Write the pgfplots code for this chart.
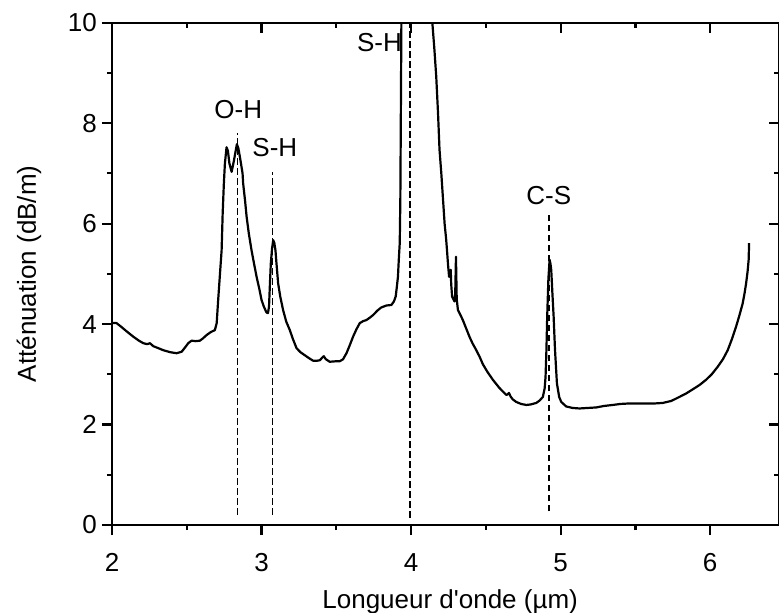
\documentclass[border=0pt]{standalone}
\usepackage{pgfplots}
\pgfplotsset{compat=1.18}
\usepackage{fontspec}
\setmainfont{Liberation Sans}

% spectrum
\pgfplotstableread{
x y
2.000 4.02
2.030 4.02
2.060 3.95
2.100 3.85
2.142 3.75
2.180 3.67
2.209 3.62
2.235 3.60
2.254 3.62
2.276 3.56
2.310 3.52
2.343 3.48
2.390 3.44
2.432 3.42
2.466 3.45
2.490 3.54
2.510 3.62
2.532 3.67
2.560 3.66
2.588 3.67
2.610 3.72
2.632 3.78
2.660 3.84
2.688 3.88
2.700 4.02
2.710 4.48
2.722 5.00
2.733 5.47
2.740 6.20
2.748 6.80
2.755 7.20
2.766 7.52
2.775 7.45
2.785 7.20
2.800 7.03
2.815 7.25
2.835 7.58
2.845 7.50
2.855 7.33
2.865 7.15
2.873 7.00
2.877 6.80
2.890 6.45
2.900 6.14
2.915 5.80
2.933 5.47
2.950 5.20
2.967 4.94
2.985 4.70
3.000 4.48
3.015 4.35
3.033 4.23
3.043 4.22
3.050 4.35
3.056 4.80
3.062 5.21
3.070 5.50
3.078 5.67
3.085 5.62
3.093 5.47
3.100 5.20
3.111 4.81
3.125 4.55
3.144 4.28
3.165 4.05
3.189 3.88
3.210 3.70
3.234 3.52
3.260 3.44
3.289 3.38
3.318 3.32
3.345 3.27
3.370 3.27
3.390 3.28
3.405 3.33
3.416 3.36
3.430 3.30
3.456 3.25
3.500 3.26
3.523 3.26
3.545 3.30
3.568 3.42
3.590 3.58
3.612 3.75
3.635 3.90
3.657 4.02
3.680 4.06
3.701 4.08
3.725 4.13
3.746 4.18
3.775 4.27
3.800 4.33
3.835 4.37
3.868 4.38
3.885 4.45
3.897 4.55
3.905 4.75
3.912 4.94
3.918 5.30
3.924 5.61
3.928 6.47
3.930 7.47
3.935 10.00
3.940 11.00
4.130 11.00
4.142 10.00
4.155 9.50
4.168 8.93
4.180 8.20
4.190 7.47
4.202 7.00
4.213 6.50
4.224 6.00
4.234 5.70
4.240 5.47
4.247 5.18
4.254 4.94
4.258 4.98
4.265 5.08
4.268 4.80
4.274 4.55
4.282 4.50
4.290 4.45
4.295 4.60
4.300 5.34
4.305 4.50
4.313 4.28
4.330 4.18
4.346 4.08
4.370 3.90
4.390 3.75
4.410 3.62
4.436 3.48
4.458 3.35
4.480 3.20
4.510 3.05
4.547 2.89
4.590 2.73
4.636 2.59
4.645 2.60
4.654 2.63
4.665 2.56
4.680 2.50
4.703 2.45
4.735 2.41
4.770 2.39
4.800 2.40
4.837 2.43
4.860 2.48
4.881 2.55
4.893 2.72
4.899 2.95
4.905 3.50
4.910 4.15
4.918 4.90
4.926 5.28
4.932 5.20
4.937 5.08
4.945 4.60
4.953 4.15
4.962 3.50
4.975 2.82
4.990 2.55
5.004 2.45
5.037 2.36
5.080 2.33
5.126 2.32
5.180 2.33
5.237 2.34
5.290 2.37
5.349 2.39
5.400 2.41
5.460 2.42
5.520 2.42
5.572 2.42
5.630 2.42
5.683 2.43
5.740 2.47
5.794 2.55
5.840 2.62
5.883 2.70
5.930 2.79
5.972 2.89
6.010 3.00
6.050 3.15
6.085 3.30
6.117 3.48
6.145 3.70
6.173 3.95
6.195 4.17
6.217 4.41
6.230 4.62
6.240 4.81
6.250 5.05
6.257 5.28
6.260 5.61
}\spectre

\pgfplotsset{
  base/.style={
    width=333.5bp, height=251.15bp, scale only axis,
    xmin=2, xmax=6.46, ymin=0, ymax=10,
    xtick={2,3,4,5,6}, minor x tick num=1,
    ytick={0,2,4,6,8,10}, minor y tick num=1,
    major tick length=5bp, minor tick length=2.5bp,
    axis line style={line width=1.1bp},
    major tick style={line width=1.1bp, black},
    minor tick style={line width=1.1bp, black},
  },
}

\begin{document}
\begin{tikzpicture}[font=\fontsize{13bp}{15bp}\selectfont]
\begin{axis}[base, name=main,
  tick pos=left, tick align=outside,
  /pgf/number format/assume math mode=true,
  xticklabel style={anchor=north, inner sep=0pt, yshift=-9.2bp},
  yticklabel style={anchor=east, inner sep=0pt, xshift=-2.4bp},
  xlabel={Longueur d\textquotesingle onde (µm)},
  ylabel={Atténuation (dB/m)},
  xlabel style={at={(axis description cs:0.507,-0.167)}, anchor=base},
  ylabel style={at={(axis description cs:-0.114,0.5)}, anchor=base},
  clip mode=individual,
]
\addplot[black, line width=1.1bp, line join=round] table[x=x, y=y] {\spectre};
\addplot[black, line width=0.7bp, dash pattern=on 3.3bp off 1.7bp] coordinates {(2.838,0.2) (2.838,7.8)};
\addplot[black, line width=0.7bp, dash pattern=on 3.3bp off 1.7bp] coordinates {(3.074,0.2) (3.074,7.03)};
\addplot[black, line width=0.7bp, dash pattern=on 3.3bp off 1.7bp] coordinates {(3.993,0.14) (3.993,10)};
\addplot[black, line width=0.7bp, dash pattern=on 3.3bp off 1.7bp] coordinates {(4.922,0.27) (4.922,6.17)};
\node[inner sep=0pt] at (axis cs:2.844,8.28) {O-H};
\node[inner sep=0pt] at (axis cs:3.089,7.52) {S-H};
\node[inner sep=0pt] at (axis cs:3.788,9.61) {S-H};
\node[inner sep=0pt] at (axis cs:4.921,6.56) {C-S};
\end{axis}
\begin{axis}[base,
  tick pos=right, tick align=inside,
  xticklabels={}, yticklabels={},
]
\end{axis}
\pgfresetboundingbox
\useasboundingbox ([xshift=-56bp,yshift=-44bp]main.south west) rectangle ([yshift=11.35bp]main.north east);
\end{tikzpicture}
\end{document}
